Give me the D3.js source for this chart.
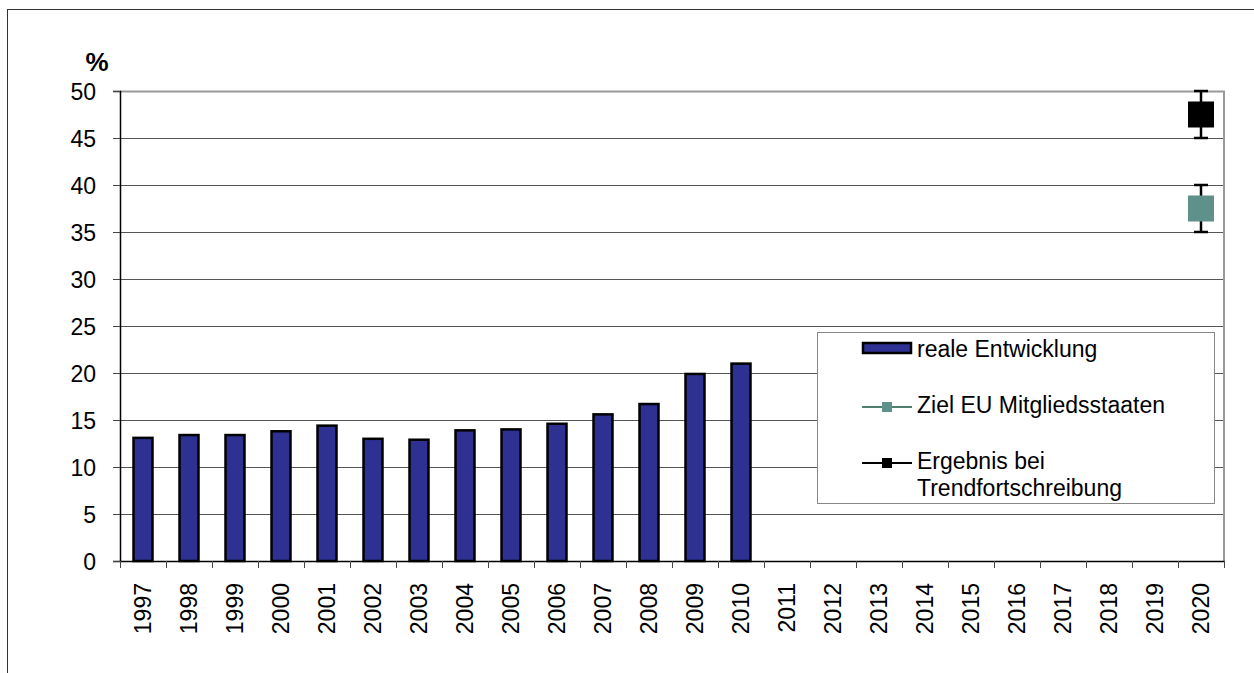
<!DOCTYPE html>
<html>
<head>
<meta charset="utf-8">
<script src="https://cdn.jsdelivr.net/npm/d3@7"></script>
<style>
  body { margin: 0; background: #fff; }
  text { font-family: "Liberation Sans", Arial, sans-serif; }
</style>
</head>
<body>
<script>
const years = ['1997','1998','1999','2000','2001','2002','2003','2004','2005','2006','2007','2008','2009','2010',
  '2011','2012','2013','2014','2015','2016','2017','2018','2019','2020'];
const realValues = [13.1, 13.4, 13.4, 13.8, 14.4, 13.0, 12.9, 13.9, 14.0, 14.6, 15.6, 16.7, 19.9, 21.0];
const targetYear = '2020';
const zielValue = 37.5;
const zielRange = [35, 40];
const trendValue = 47.5;
const trendRange = [45, 50];
const yTicks = [0, 5, 10, 15, 20, 25, 30, 35, 40, 45, 50];

const margin = { top: 91, left: 120 };
const width = 1104;
const height = 470;
const fs = '23px';

const svg = d3.select('body').append('svg')
  .attr('width', 1254)
  .attr('height', 673);

// outer frame
svg.append('rect')
  .attr('x', 7.5).attr('y', 9.5)
  .attr('width', 1300).attr('height', 700)
  .attr('fill', 'none').attr('stroke', '#333');

const g = svg.append('g')
  .attr('transform', `translate(${margin.left}, ${margin.top})`);

const xScale = d3.scaleBand()
  .domain(years)
  .range([0, width]);

const yScale = d3.scaleLinear()
  .domain([0, 50])
  .range([height, 0]);

// gridlines
g.selectAll('.grid').data(yTicks.slice(1, -1))
  .enter().append('line')
  .attr('x1', 0).attr('x2', width)
  .attr('y1', d => Math.round(yScale(d)) + 0.5)
  .attr('y2', d => Math.round(yScale(d)) + 0.5)
  .attr('stroke', '#555').attr('stroke-width', 1);

// plot frame top/right (gray)
g.append('path')
  .attr('d', `M0,0.5H${width}V${height}`)
  .attr('fill', 'none').attr('stroke', '#999').attr('stroke-width', 2);

// bars
const barW = 19;
g.selectAll('.bar').data(realValues)
  .enter().append('rect')
  .attr('class', 'bar')
  .attr('x', (d, i) => xScale(years[i]) + xScale.bandwidth() / 2 - barW / 2)
  .attr('width', barW)
  .attr('y', d => yScale(d))
  .attr('height', d => height - yScale(d))
  .attr('fill', '#2e3192')
  .attr('stroke', '#000')
  .attr('stroke-width', 2.5);

// y axis
const yAxis = d3.axisLeft(yScale).tickValues(yTicks).tickSize(7).tickPadding(17);
const ya = g.append('g').call(yAxis);
ya.select('.domain').attr('stroke', '#000').attr('stroke-width', 1.5);
ya.selectAll('.tick line').attr('stroke', '#444');
ya.selectAll('text').style('font-size', fs).attr('fill', '#000').attr('dy', '0.36em');

// x axis
const xAxis = d3.axisBottom(xScale).tickSize(0).tickPadding(0);
const xa = g.append('g').attr('transform', `translate(0, ${height})`).call(xAxis);
xa.select('.domain').attr('stroke', '#000').attr('stroke-width', 1.5);
xa.selectAll('text')
  .attr('transform', 'rotate(-90)')
  .attr('x', -22).attr('y', 0).attr('dy', '0.36em')
  .style('text-anchor', 'end')
  .style('font-size', fs).attr('fill', '#000');

// x ticks at band boundaries
g.selectAll('.xtick').data(years.concat(['end']))
  .enter().append('line')
  .attr('x1', (d, i) => i * xScale.step() + 0.5)
  .attr('x2', (d, i) => i * xScale.step() + 0.5)
  .attr('y1', height).attr('y2', height + 7)
  .attr('stroke', '#444');

// % label
svg.append('text')
  .attr('x', 97).attr('y', 71)
  .style('text-anchor', 'middle')
  .style('font-size', '26px').style('font-weight', 'bold')
  .text('%');

// markers with error bars
const cx = xScale(targetYear) + xScale.bandwidth() / 2;
const points = [
  { v: zielValue, r: zielRange, fill: '#5f908a' },
  { v: trendValue, r: trendRange, fill: '#000' }
];
points.forEach(p => {
  g.append('line')
    .attr('x1', cx).attr('x2', cx)
    .attr('y1', yScale(p.r[0])).attr('y2', yScale(p.r[1]))
    .attr('stroke', '#000').attr('stroke-width', 2.5);
  p.r.forEach(e => {
    g.append('line')
      .attr('x1', cx - 7).attr('x2', cx + 7)
      .attr('y1', yScale(e)).attr('y2', yScale(e))
      .attr('stroke', '#000').attr('stroke-width', 2.5);
  });
  g.append('rect')
    .attr('x', cx - 13).attr('y', yScale(p.v) - 13)
    .attr('width', 26).attr('height', 26)
    .attr('fill', p.fill);
});

// legend
const lg = svg.append('g').attr('transform', 'translate(817, 332)');
lg.append('rect')
  .attr('x', 0.5).attr('y', 0.5).attr('width', 397).attr('height', 171)
  .attr('fill', '#fff').attr('stroke', '#888');
lg.append('rect')
  .attr('x', 46).attr('y', 11).attr('width', 48).attr('height', 10)
  .attr('fill', '#2e3192').attr('stroke', '#000').attr('stroke-width', 2.5);
lg.append('text').attr('x', 100).attr('y', 25).style('font-size', fs).text('reale Entwicklung');

lg.append('line').attr('x1', 45).attr('x2', 95).attr('y1', 75).attr('y2', 75)
  .attr('stroke', '#4f7f6f').attr('stroke-width', 2);
lg.append('rect').attr('x', 65).attr('y', 70).attr('width', 10).attr('height', 10).attr('fill', '#5f908a');
lg.append('text').attr('x', 100).attr('y', 81).style('font-size', fs).text('Ziel EU Mitgliedsstaaten');

lg.append('line').attr('x1', 45).attr('x2', 95).attr('y1', 131).attr('y2', 131)
  .attr('stroke', '#000').attr('stroke-width', 2);
lg.append('rect').attr('x', 65).attr('y', 126).attr('width', 10).attr('height', 10).attr('fill', '#000');
lg.append('text').attr('x', 100).attr('y', 137).style('font-size', fs).text('Ergebnis bei');
lg.append('text').attr('x', 100).attr('y', 164).style('font-size', fs).text('Trendfortschreibung');
</script>
</body>
</html>
